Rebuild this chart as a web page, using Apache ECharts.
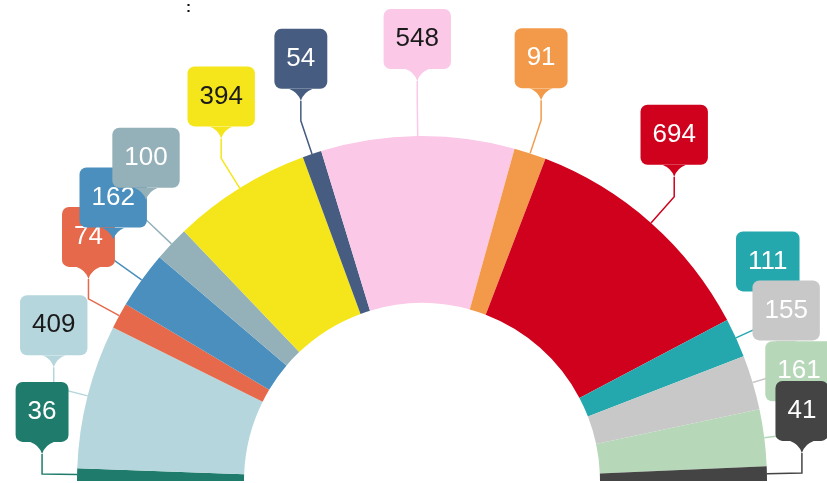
<!DOCTYPE html>
<html>
<head>
<meta charset="utf-8">
<style>
    html, body { margin: 0; padding: 0; background: #fff; }
    #chart { width: 827px; height: 483px; }
</style>
</head>
<body>
<div id="chart"></div>
<script src="https://cdn.jsdelivr.net/npm/echarts@6/dist/echarts.min.js"></script>
<script>
    // seats per group, left to right around the half ring
    var seats = [36, 409, 74, 162, 100, 394, 54, 548, 91, 694, 111, 155, 161, 41];
    var groupNames = ['G1', 'G2', 'G3', 'G4', 'G5', 'G6', 'G7', 'G8', 'G9', 'G10', 'G11', 'G12', 'G13', 'G14'];
    var colors = ['#1f7c6c', '#b5d6dc', '#e5694a', '#4a8fbd', '#94b1b9', '#f5e51b', '#465c80',
                  '#fbc8e7', '#f39a4a', '#cf011c', '#24a8ae', '#c8c8c8', '#b6d7b8', '#444444'];
    var textColors = ['#fff', '#1a1a1a', '#fff', '#fff', '#fff', '#1a1a1a', '#fff',
                      '#1a1a1a', '#fff', '#fff', '#fff', '#fff', '#fff', '#fff'];

    var cx = 422, cy = 481, rIn = 178, rOut = 345;
    var total = seats.reduce(function (a, b) { return a + b; }, 0);

    // little pointer under each callout box
    function tipImage(color) {
        var svg = "<svg xmlns='http://www.w3.org/2000/svg' width='24' height='12' viewBox='0 0 24 12'>" +
            "<path d='M0 0 L24 0 Q15 3 12 12 Q9 3 0 0 Z' fill='" + color + "'/></svg>";
        return 'data:image/svg+xml;charset=utf-8,' + encodeURIComponent(svg);
    }

    // slice edge -> bend -> straight up to the box pointer
    function calloutPoints(i) {
        var before = 0;
        for (var k = 0; k < i; k++) before += seats[k];
        var a = (before + seats[i] / 2) / total * Math.PI;
        var dx = -Math.cos(a), dy = -Math.sin(a);
        var s = [cx + rOut * dx, cy + rOut * dy];
        var b = [cx + (rOut + 35) * dx, cy + (rOut + 35) * dy];
        return [s, b, [b[0], b[1] - 20]];
    }

    var pieData = seats.map(function (v, i) {
        return {
            value: v,
            name: groupNames[i],
            itemStyle: { color: colors[i] },
            label: {
                rich: {
                    b: {
                        fontFamily: 'Liberation Sans, Arial, sans-serif',
                        fontSize: 26,
                        height: 60,
                        lineHeight: 60,
                        color: textColors[i],
                        backgroundColor: colors[i],
                        borderRadius: 7,
                        padding: [0, 12],
                        align: 'center'
                    },
                    t: {
                        fontSize: 10,
                        width: 24,
                        height: 12,
                        lineHeight: 12,
                        align: 'center',
                        backgroundColor: { image: tipImage(colors[i]) }
                    }
                }
            },
            labelLine: { lineStyle: { color: colors[i] } }
        };
    });

    var myChart = echarts.init(document.getElementById('chart'));
    myChart.setOption({
        animation: false,
        title: {
            text: ':',
            left: 181,
            top: -5,
            textStyle: { fontSize: 15, color: '#111', fontWeight: 'bold' }
        },
        series: [{
            type: 'pie',
            center: [cx, cy],
            radius: [rIn, rOut],
            startAngle: 180,
            endAngle: 0,
            clockwise: true,
            avoidLabelOverlap: false,
            silent: true,
            itemStyle: { borderWidth: 0 },
            label: {
                show: true,
                position: 'outside',
                formatter: '{b|{c}}\n{t| }'
            },
            labelLine: { show: true, smooth: false, lineStyle: { width: 1.5 } },
            labelLayout: function (params) {
                var pts = calloutPoints(params.dataIndex);
                return {
                    x: pts[2][0],
                    y: pts[2][1],
                    align: 'center',
                    verticalAlign: 'bottom',
                    labelLinePoints: pts
                };
            },
            data: pieData
        }]
    });
</script>
</body>
</html>
